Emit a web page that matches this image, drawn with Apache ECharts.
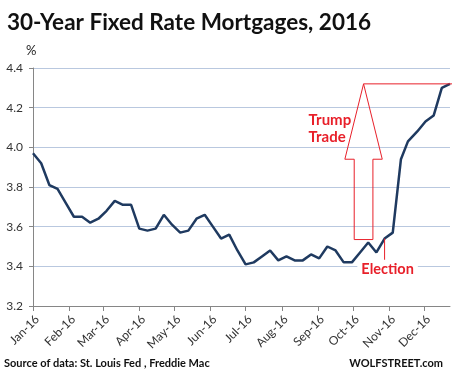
<!DOCTYPE html>
<html><head><meta charset="utf-8">
<script src="https://cdn.jsdelivr.net/npm/echarts@6/dist/echarts.min.js"></script>
<style>html,body{margin:0;padding:0;background:#fff}#c{width:453px;height:381px}</style>
</head><body><div id="c"></div>
<script>
const dates = ['2016-01-07','2016-01-14','2016-01-21','2016-01-28','2016-02-04','2016-02-11','2016-02-18','2016-02-25',
'2016-03-03','2016-03-10','2016-03-17','2016-03-24','2016-03-31','2016-04-07','2016-04-14','2016-04-21','2016-04-28',
'2016-05-05','2016-05-12','2016-05-19','2016-05-26','2016-06-02','2016-06-09','2016-06-16','2016-06-23','2016-06-30',
'2016-07-07','2016-07-14','2016-07-21','2016-07-28','2016-08-04','2016-08-11','2016-08-18','2016-08-25',
'2016-09-01','2016-09-08','2016-09-15','2016-09-22','2016-09-29','2016-10-06','2016-10-13','2016-10-20','2016-10-27',
'2016-11-03','2016-11-10','2016-11-17','2016-11-23','2016-12-01','2016-12-08','2016-12-15','2016-12-22','2016-12-29'];
const rates = [3.97,3.92,3.81,3.79,3.72,3.65,3.65,3.62,
3.64,3.68,3.73,3.71,3.71,3.59,3.58,3.59,3.66,
3.61,3.57,3.58,3.64,3.66,3.60,3.54,3.56,3.48,
3.41,3.42,3.45,3.48,3.43,3.45,3.43,3.43,
3.46,3.44,3.50,3.48,3.42,3.42,3.47,3.52,3.47,
3.54,3.57,3.94,4.03,4.08,4.13,4.16,4.30,4.32];
const tickDates = ['2016-01-07','2016-02-07','2016-03-07','2016-04-07','2016-05-07','2016-06-07',
'2016-07-07','2016-08-07','2016-09-07','2016-10-07','2016-11-07','2016-12-07'];
const tickLabels = ['Jan-16','Feb-16','Mar-16','Apr-16','May-16','Jun-16','Jul-16','Aug-16','Sep-16','Oct-16','Nov-16','Dec-16'];
const yMin = 3.2, yMax = 4.4, yStep = 0.2;
const electionDate = '2016-11-03';

// x positions: day number counted from the first observation date
const DAY = 86400000;
function dn(s){const p=s.split('-');return Math.round((Date.UTC(+p[0],+p[1]-1,+p[2])-Date.UTC(2016,0,7))/DAY);}
const tickDays = tickDates.map(dn);
const labelMap = {}; tickDays.forEach((t,i)=>labelMap[t]=tickLabels[i]);
const FONT = 'Lato';
const chart = echarts.init(document.getElementById('c'));
chart.setOption({
  animation:false,
  backgroundColor:'#fff',
  title:{text:'30-Year Fixed Rate Mortgages, 2016',left:2,top:6,
    textStyle:{fontFamily:FONT,fontWeight:'bold',fontSize:22.5,color:'#111'}},
  grid:{left:33,right:3,top:68,bottom:75},
  xAxis:{type:'value',min:dn(dates[0]),max:dn(dates[dates.length-1]),
    axisLine:{lineStyle:{color:'#868686',width:1}},
    axisTick:{show:true,length:5,lineStyle:{color:'#868686'},customValues:tickDays},
    axisLabel:{rotate:45,fontFamily:FONT,fontSize:12,color:'#333',margin:7,verticalAlign:'top',customValues:tickDays,
      formatter:v=>labelMap[v]||''},
    splitLine:{show:false}},
  yAxis:{type:'value',min:yMin,max:yMax,interval:yStep,
    axisLine:{show:true,lineStyle:{color:'#868686'}},
    axisTick:{show:true,length:4,lineStyle:{color:'#868686'}},
    axisLabel:{fontFamily:FONT,fontSize:12,color:'#333',margin:10,formatter:v=>v.toFixed(1)},
    splitLine:{lineStyle:{color:'#b9c8df',width:1}}},
  series:[{type:'line',data:dates.map((d,i)=>[dn(d),rates[i]]),showSymbol:false,
    lineStyle:{color:'#1f3a60',width:2.5},z:3}]
});
const cp=(d,v)=>chart.convertToPixel({gridIndex:0},[dn(d),v]);
const red='#e8202a';
const maxV=Math.max(...rates);
const tip=cp('2016-10-16',maxV);
const hl=cp('2016-09-30',3.94), hr=cp('2016-11-01',3.94);
const sl=cp('2016-10-08',3.94), sr=cp('2016-10-24',3.94);
const bot=cp('2016-10-08',3.535);
const el=cp(electionDate,rates[dates.indexOf(electionDate)]);
const elBot=cp(electionDate,3.42);
chart.setOption({graphic:[
  {type:'text',left:26,top:44,style:{text:'%',font:'13px '+FONT,fill:'#222'}},
  {type:'polygon',z:10,shape:{points:[[tip[0],tip[1]],[hr[0],hr[1]],[sr[0],sr[1]],[sr[0],bot[1]],[sl[0],bot[1]],[sl[0],sl[1]],[hl[0],hl[1]]]},
    style:{fill:'none',stroke:red,lineWidth:1}},
  {type:'line',z:10,shape:{x1:tip[0],y1:tip[1],x2:452,y2:tip[1]},style:{stroke:red,lineWidth:1}},
  {type:'line',z:10,shape:{x1:el[0],y1:el[1],x2:el[0],y2:elBot[1]},style:{stroke:red,lineWidth:1}},
  {type:'text',z:11,x:el[0]+3,y:elBot[1]+7,style:{text:'Election',font:'bold 14.5px '+FONT,fill:red,
    align:'center',verticalAlign:'middle',backgroundColor:'#fff',padding:[2,4]}},
  {type:'text',z:11,x:tip[0]-55,y:tip[1]+28,style:{text:'Trump\nTrade',font:'bold 15px '+FONT,fill:red,
    align:'left',verticalAlign:'top',lineHeight:17}},
  {type:'text',left:4,top:358,style:{text:'Source of data: St. Louis Fed , Freddie Mac',font:'bold 11px '+FONT,fill:'#111'}},
  {type:'text',right:10,top:358,style:{text:'WOLFSTREET.com',font:'bold 11px '+FONT,fill:'#111'}}
]});
</script></body></html>
